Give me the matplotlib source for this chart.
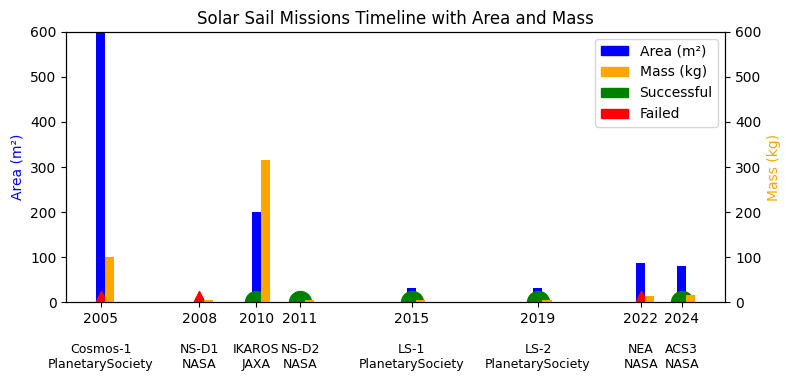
import numpy as np
from matplotlib import pyplot as plt
from matplotlib.patches import Patch

# launch positions (decimal year) and the year shown on the axis
launch = [2005.0, 2008.24, 2010.13, 2011.57, 2015.25, 2019.42, 2022.81, 2024.16]
years = [2005, 2008, 2010, 2011, 2015, 2019, 2022, 2024]
missions = ["Cosmos-1", "NS-D1", "IKAROS", "NS-D2", "LS-1", "LS-2", "NEA", "ACS3"]
agencies = ["PlanetarySociety", "NASA", "JAXA", "NASA", "PlanetarySociety",
            "PlanetarySociety", "NASA", "NASA"]
area = [600, 10, 200, 10, 32, 32, 86, 80]
mass = [100, 4, 315, 4, 5, 5, 14, 16]
success = [False, False, True, True, True, True, False, True]

x = np.array(launch)
w = 0.3

fig, ax1 = plt.subplots(figsize=(7.9, 3.8), dpi=100)
ax2 = ax1.twinx()

ax1.bar(x, area, width=w, color="blue")
ax2.bar(x + w, mass, width=w, color="orange")

for xx, ok in zip(launch, success):
    if ok:
        ax1.scatter(xx, 0, s=250, color="green", marker="o", zorder=5)
    else:
        ax1.scatter(xx, 0, s=250, color="red", marker="^", zorder=5)

ax1.set_ylim(0, 600)
ax2.set_ylim(0, 600)
ax1.set_ylabel("Area (m²)", color="blue")
ax2.set_ylabel("Mass (kg)", color="orange")
ax1.set_xticks(launch)
ax1.set_xticklabels([str(y) for y in years])

for xx, m, a in zip(launch, missions, agencies):
    ax1.text(xx, -90, f"{m}\n{a}", ha="center", va="top", fontsize=9)

ax1.set_title("Solar Sail Missions Timeline with Area and Mass")

handles = [Patch(color="blue", label="Area (m²)"),
           Patch(color="orange", label="Mass (kg)"),
           Patch(color="green", label="Successful"),
           Patch(color="red", label="Failed")]
ax2.legend(handles=handles, loc="upper right")

fig.subplots_adjust(left=0.084, right=0.918, top=0.916, bottom=0.205)
fig.savefig("out.png")
